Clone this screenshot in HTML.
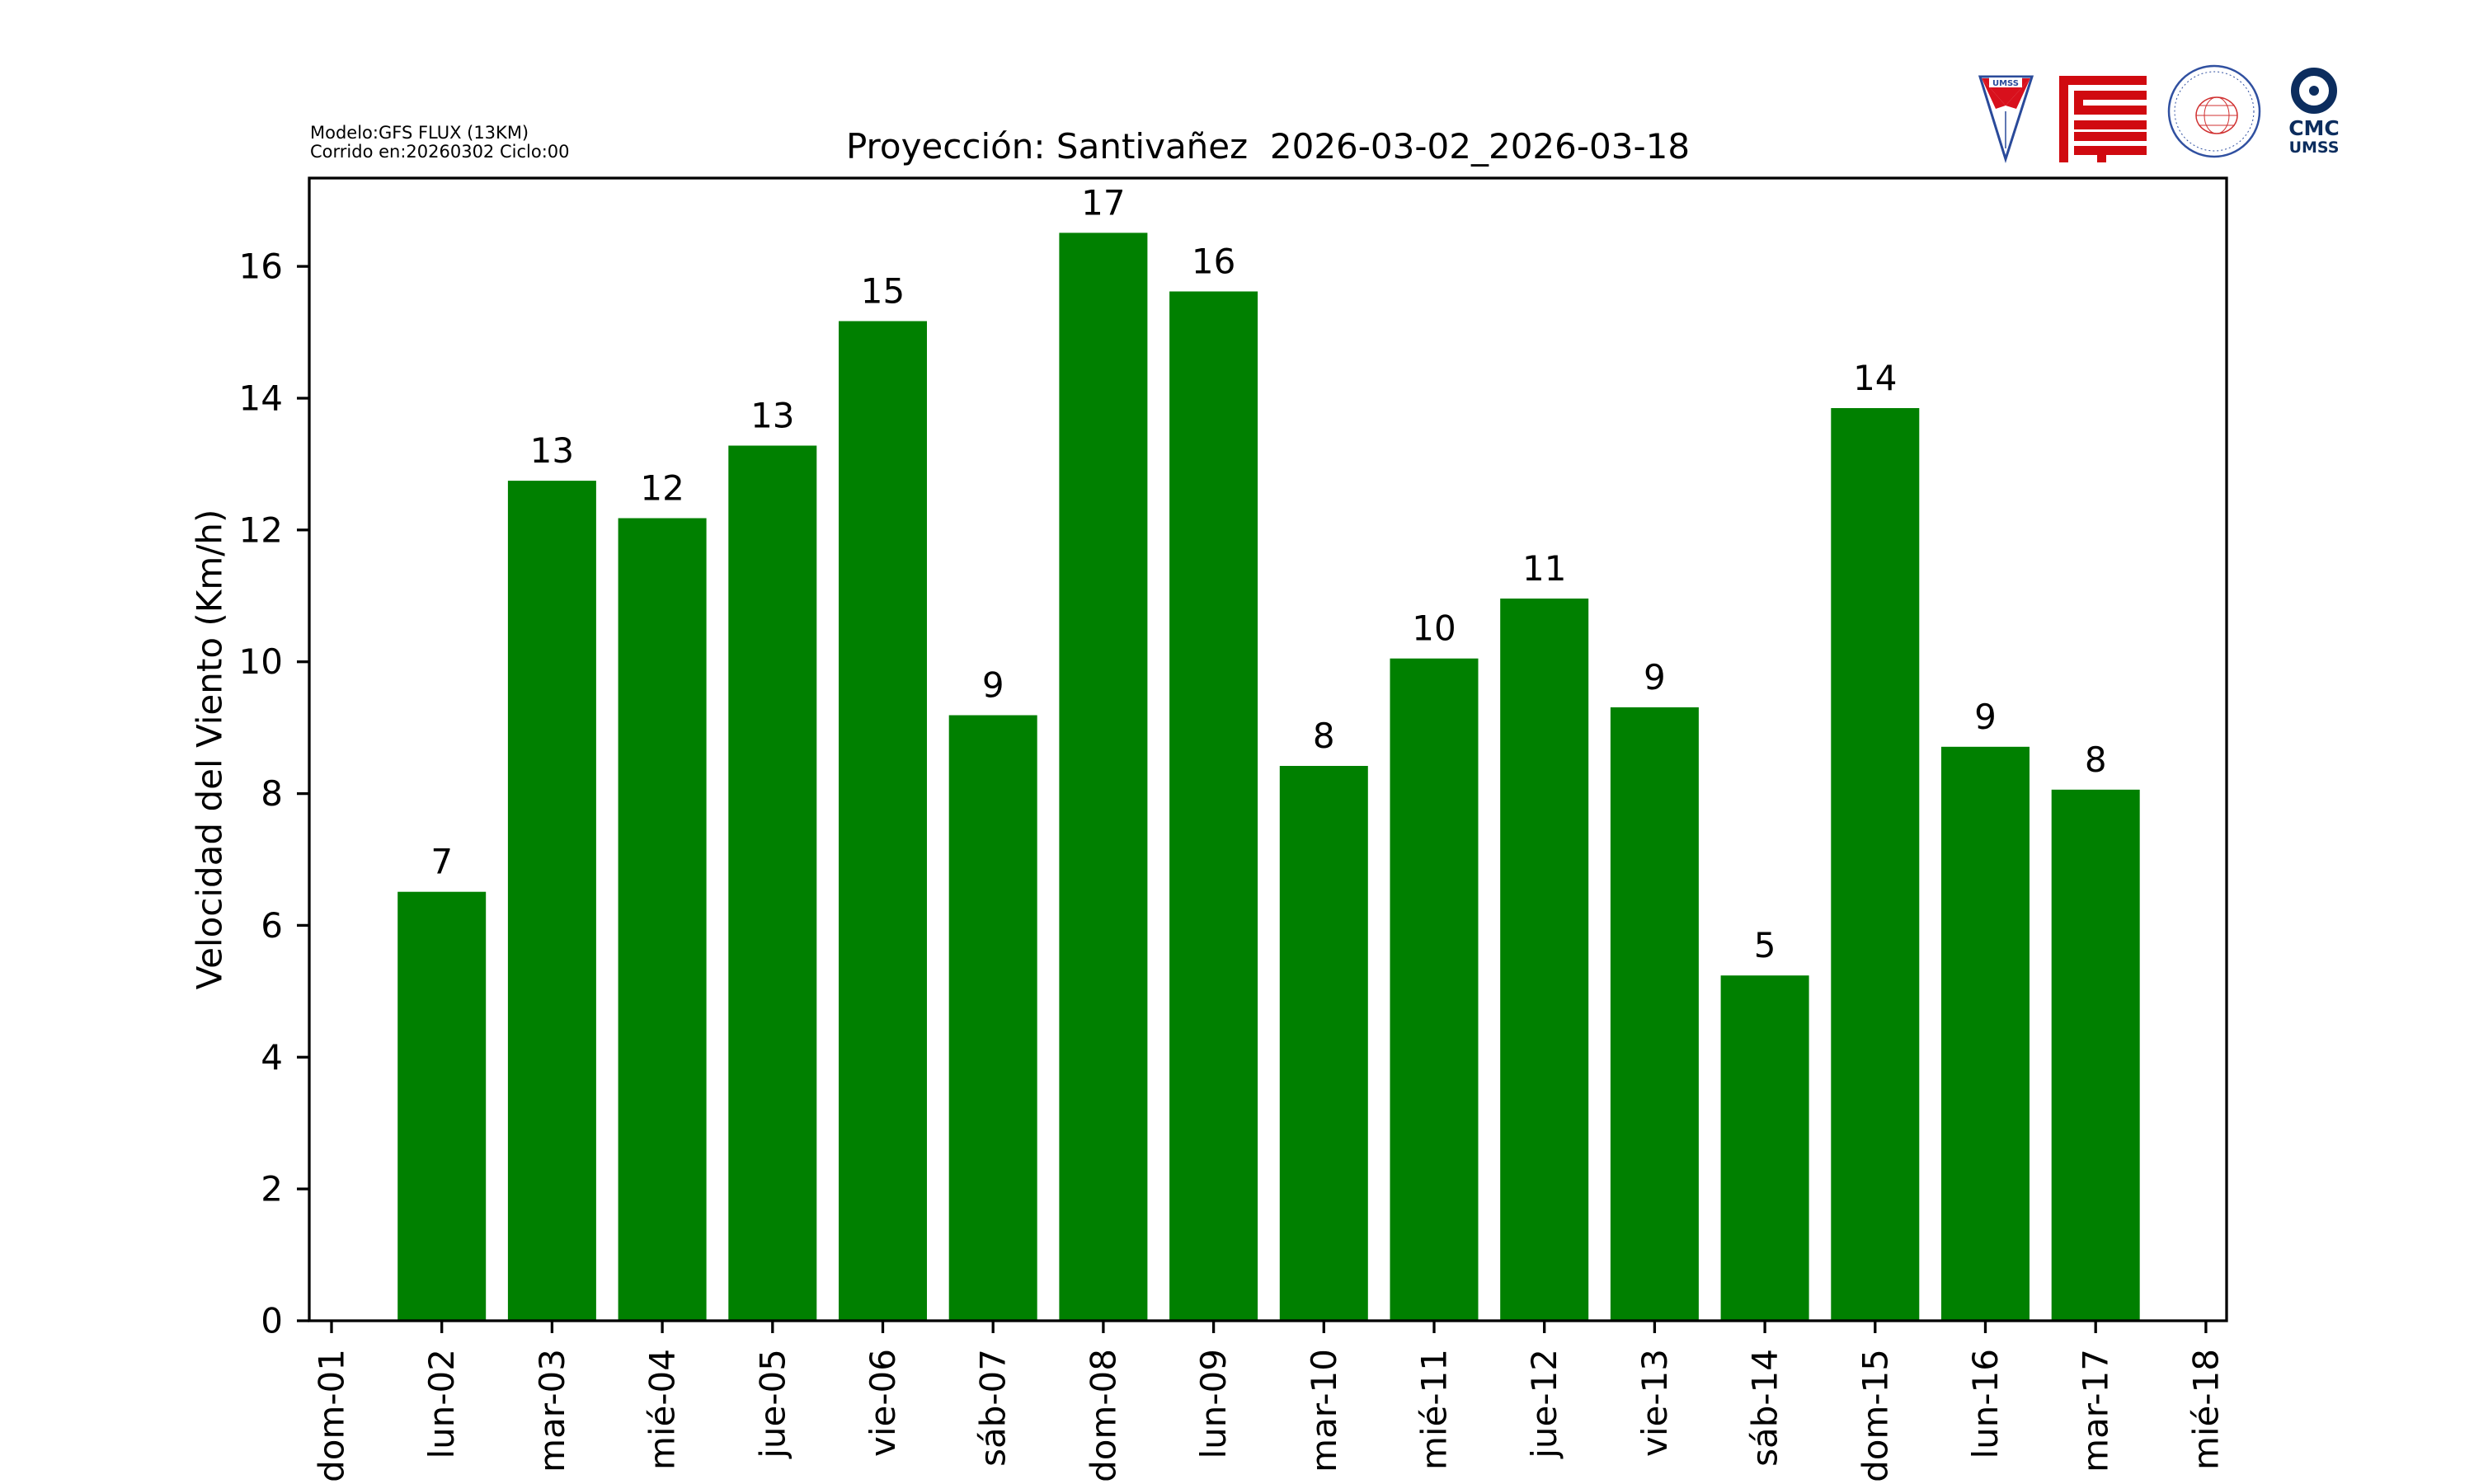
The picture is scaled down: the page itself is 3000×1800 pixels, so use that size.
<!DOCTYPE html>
<html><head><meta charset="utf-8"><style>
html,body{margin:0;padding:0;background:#fff;}
svg{display:block;}
text{font-family:"DejaVu Sans","Liberation Sans",sans-serif;fill:#000;}
</style></head><body>
<svg width="3000" height="1800" viewBox="0 0 3000 1800" xmlns="http://www.w3.org/2000/svg">
<rect width="3000" height="1800" fill="#fff"/>
<!-- bars -->
<g fill="#008000">
<rect x="482.2" y="1081.7" width="107" height="520.3"/>
<rect x="615.9" y="583.1" width="107" height="1018.9"/>
<rect x="749.6" y="628.5" width="107" height="973.5"/>
<rect x="883.3" y="540.5" width="107" height="1061.5"/>
<rect x="1017.0" y="389.5" width="107" height="1212.5"/>
<rect x="1150.7" y="867.5" width="107" height="734.5"/>
<rect x="1284.4" y="282.4" width="107" height="1319.6"/>
<rect x="1418.1" y="353.5" width="107" height="1248.5"/>
<rect x="1551.8" y="929.0" width="107" height="673"/>
<rect x="1685.5" y="798.7" width="107" height="803.3"/>
<rect x="1819.2" y="726.0" width="107" height="876"/>
<rect x="1952.9" y="857.9" width="107" height="744.1"/>
<rect x="2086.6" y="1183.2" width="107" height="418.8"/>
<rect x="2220.3" y="495.0" width="107" height="1107"/>
<rect x="2354.0" y="905.8" width="107" height="696.2"/>
<rect x="2487.7" y="957.8" width="107" height="644.2"/>
</g>
<!-- value labels -->
<g font-size="42" text-anchor="middle">
<text x="535.7" y="1059.7">7</text>
<text x="669.4" y="561.1">13</text>
<text x="803.1" y="606.5">12</text>
<text x="936.8" y="518.5">13</text>
<text x="1070.5" y="367.5">15</text>
<text x="1204.2" y="845.5">9</text>
<text x="1337.9" y="260.4">17</text>
<text x="1471.6" y="331.5">16</text>
<text x="1605.3" y="907.0">8</text>
<text x="1739.0" y="776.7">10</text>
<text x="1872.7" y="704.0">11</text>
<text x="2006.4" y="835.9">9</text>
<text x="2140.1" y="1161.2">5</text>
<text x="2273.8" y="473.0">14</text>
<text x="2407.5" y="883.8">9</text>
<text x="2541.2" y="935.8">8</text>
</g>
<!-- axes frame -->
<rect x="375" y="216" width="2325" height="1386" fill="none" stroke="#000" stroke-width="3.3"/>
<!-- y ticks -->
<g stroke="#000" stroke-width="3.3">
<line x1="360" x2="375" y1="1602" y2="1602"/>
<line x1="360" x2="375" y1="1442.1" y2="1442.1"/>
<line x1="360" x2="375" y1="1282.3" y2="1282.3"/>
<line x1="360" x2="375" y1="1122.4" y2="1122.4"/>
<line x1="360" x2="375" y1="962.6" y2="962.6"/>
<line x1="360" x2="375" y1="802.7" y2="802.7"/>
<line x1="360" x2="375" y1="642.8" y2="642.8"/>
<line x1="360" x2="375" y1="483.0" y2="483.0"/>
<line x1="360" x2="375" y1="323.1" y2="323.1"/>
</g>
<g font-size="42" text-anchor="end" dominant-baseline="central">
<text x="343" y="1602">0</text>
<text x="343" y="1442.1">2</text>
<text x="343" y="1282.3">4</text>
<text x="343" y="1122.4">6</text>
<text x="343" y="962.6">8</text>
<text x="343" y="802.7">10</text>
<text x="343" y="642.8">12</text>
<text x="343" y="483.0">14</text>
<text x="343" y="323.1">16</text>
</g>
<text font-size="42" text-anchor="middle" dominant-baseline="central" transform="translate(254,909) rotate(-90)">Velocidad del Viento (Km/h)</text>
<!-- x ticks -->
<g stroke="#000" stroke-width="3.3">
<line x1="402" x2="402" y1="1602" y2="1617"/>
<line x1="535.7" x2="535.7" y1="1602" y2="1617"/>
<line x1="669.4" x2="669.4" y1="1602" y2="1617"/>
<line x1="803.1" x2="803.1" y1="1602" y2="1617"/>
<line x1="936.8" x2="936.8" y1="1602" y2="1617"/>
<line x1="1070.5" x2="1070.5" y1="1602" y2="1617"/>
<line x1="1204.2" x2="1204.2" y1="1602" y2="1617"/>
<line x1="1337.9" x2="1337.9" y1="1602" y2="1617"/>
<line x1="1471.6" x2="1471.6" y1="1602" y2="1617"/>
<line x1="1605.3" x2="1605.3" y1="1602" y2="1617"/>
<line x1="1739.0" x2="1739.0" y1="1602" y2="1617"/>
<line x1="1872.7" x2="1872.7" y1="1602" y2="1617"/>
<line x1="2006.4" x2="2006.4" y1="1602" y2="1617"/>
<line x1="2140.1" x2="2140.1" y1="1602" y2="1617"/>
<line x1="2273.8" x2="2273.8" y1="1602" y2="1617"/>
<line x1="2407.5" x2="2407.5" y1="1602" y2="1617"/>
<line x1="2541.2" x2="2541.2" y1="1602" y2="1617"/>
<line x1="2674.9" x2="2674.9" y1="1602" y2="1617"/>
</g>
<g font-size="42" text-anchor="end" dominant-baseline="central">
<text transform="translate(402,1636) rotate(-90)">dom-01</text>
<text transform="translate(535.7,1636) rotate(-90)">lun-02</text>
<text transform="translate(669.4,1636) rotate(-90)">mar-03</text>
<text transform="translate(803.1,1636) rotate(-90)">mié-04</text>
<text transform="translate(936.8,1636) rotate(-90)">jue-05</text>
<text transform="translate(1070.5,1636) rotate(-90)">vie-06</text>
<text transform="translate(1204.2,1636) rotate(-90)">sáb-07</text>
<text transform="translate(1337.9,1636) rotate(-90)">dom-08</text>
<text transform="translate(1471.6,1636) rotate(-90)">lun-09</text>
<text transform="translate(1605.3,1636) rotate(-90)">mar-10</text>
<text transform="translate(1739.0,1636) rotate(-90)">mié-11</text>
<text transform="translate(1872.7,1636) rotate(-90)">jue-12</text>
<text transform="translate(2006.4,1636) rotate(-90)">vie-13</text>
<text transform="translate(2140.1,1636) rotate(-90)">sáb-14</text>
<text transform="translate(2273.8,1636) rotate(-90)">dom-15</text>
<text transform="translate(2407.5,1636) rotate(-90)">lun-16</text>
<text transform="translate(2541.2,1636) rotate(-90)">mar-17</text>
<text transform="translate(2674.9,1636) rotate(-90)">mié-18</text>
</g>
<!-- title -->
<text x="1537.5" y="192" font-size="42" text-anchor="middle" xml:space="preserve">Proyección: Santivañez  2026-03-02_2026-03-18</text>
<text x="376" y="168" font-size="21">Modelo:GFS FLUX (13KM)</text>
<text x="376" y="191" font-size="21">Corrido en:20260302 Ciclo:00</text>
<!-- logos -->
<g>
<polygon points="2401,93 2464,93 2432,193" fill="#fff" stroke="#2a4a9a" stroke-width="3"/>
<polygon points="2403,95 2462,95 2432,128" fill="#d8101c"/>
<polygon points="2403,95 2432,128 2420,132" fill="#d8101c"/>
<polygon points="2462,95 2432,128 2445,132" fill="#d8101c"/>
<rect x="2412" y="94" width="40" height="12" fill="#fff"/>
<text x="2432" y="104" font-size="10" font-weight="bold" fill="#2a4a9a" text-anchor="middle" style="fill:#2a4a9a">UMSS</text>
<line x1="2432" y1="135" x2="2432" y2="180" stroke="#2a4a9a" stroke-width="1.5"/>
</g>
<g fill="#d00a10">
<rect x="2497" y="92" width="11" height="105"/>
<rect x="2497" y="92" width="106" height="11"/>
<rect x="2515" y="110" width="88" height="11"/>
<rect x="2515" y="110" width="11" height="29"/>
<rect x="2515" y="128" width="88" height="11"/>
<rect x="2515" y="146" width="88" height="11"/>
<rect x="2515" y="160" width="88" height="11"/>
<rect x="2515" y="177" width="88" height="11"/>
<rect x="2543" y="177" width="11" height="20"/>
</g>
<g fill="none">
<circle cx="2685" cy="135" r="55" stroke="#3050a0" stroke-width="2.5"/>
<circle cx="2685" cy="135" r="48" stroke="#3050a0" stroke-width="1" stroke-dasharray="2,3"/>
<ellipse cx="2688" cy="140" rx="25" ry="22" stroke="#d03030" stroke-width="1.5"/>
<ellipse cx="2688" cy="140" rx="15" ry="22" stroke="#d03030" stroke-width="1"/>
<path d="M2663 140 H2713 M2666 128 H2710 M2666 152 H2710" stroke="#d03030" stroke-width="1"/>
</g>
<g>
<circle cx="2806" cy="110" r="23" fill="none" stroke="#0c2d5e" stroke-width="10"/>
<circle cx="2806" cy="110" r="6" fill="#0c2d5e"/>
<text x="2806" y="164" font-size="25" font-weight="bold" text-anchor="middle" style="fill:#0c2d5e">CMC</text>
<text x="2806" y="185" font-size="19" font-weight="bold" text-anchor="middle" style="fill:#0c2d5e">UMSS</text>
</g>
</svg>
</body></html>
